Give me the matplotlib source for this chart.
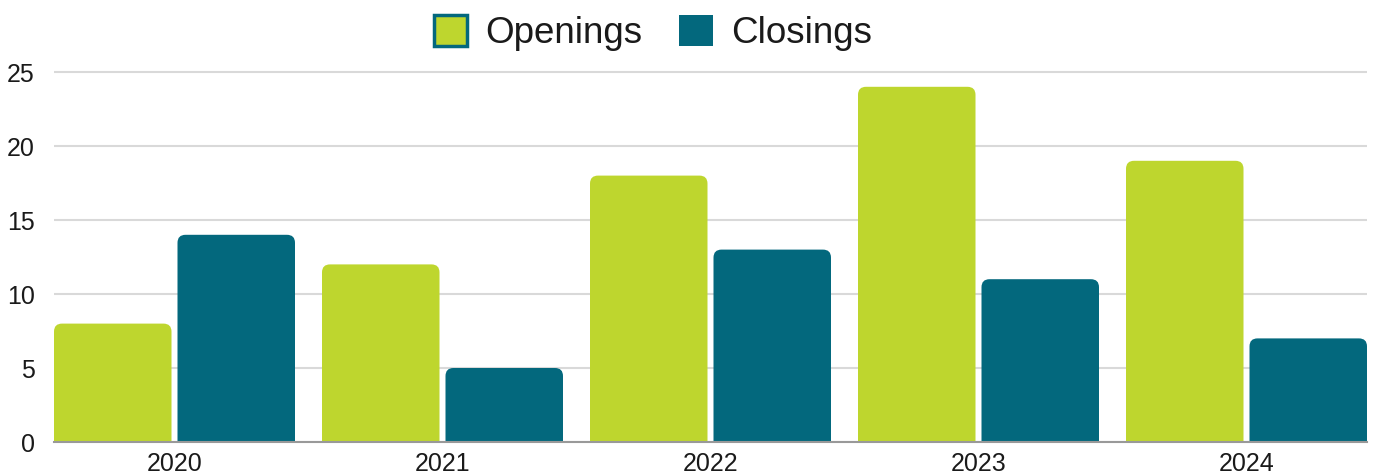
import matplotlib
matplotlib.use("Agg")
import matplotlib.pyplot as plt
from matplotlib.patches import FancyBboxPatch, Patch
import numpy as np

plt.rcParams['font.family'] = ['Liberation Sans', 'DejaVu Sans']

years = ["2020", "2021", "2022", "2023", "2024"]
openings = [8, 12, 18, 24, 19]
closings = [14, 5, 13, 11, 7]
series_names = ["Openings", "Closings"]
green = "#BED62E"
teal = "#03687D"

W, H = 1373, 475
fig = plt.figure(figsize=(W / 100, H / 100), dpi=100)
ymax = 25.5
left, right, bottom = 54, 1367, 442
ppu = (442 - 72) / 25.0
top = bottom - ymax * ppu
ax = fig.add_axes([left / W, (H - bottom) / H, (right - left) / W, (bottom - top) / H])

x = np.arange(len(years))
bw = 117.5 / 268
gap = 6 / 268
ax.set_xlim(-bw - gap / 2, len(years) - 1 + bw + gap / 2)
ax.set_ylim(0, ymax)

b1 = ax.bar(x - (bw + gap) / 2, openings, width=bw, color=green)
b2 = ax.bar(x + (bw + gap) / 2, closings, width=bw, color=teal)

# rounded top corners
xunit_px = 268.0
r_px = 8.0
rx = r_px / xunit_px
aspect = xunit_px / ppu
for bars, col in ((b1, green), (b2, teal)):
    for r in bars:
        r.set_visible(False)
        bx, bwid, bh = r.get_x(), r.get_width(), r.get_height()
        ext = r_px / ppu * 1.5
        p = FancyBboxPatch((bx + rx, -ext), bwid - 2 * rx, bh + ext - rx * aspect,
                           boxstyle=f"round,pad={rx},rounding_size={rx}",
                           mutation_aspect=aspect, facecolor=col, edgecolor='none',
                           zorder=2)
        ax.add_patch(p)

ax.set_yticks([0, 5, 10, 15, 20, 25])
ax.grid(axis='y', color='#d9d9d9', linewidth=1.5, zorder=0)
ax.set_axisbelow(True)
for s in ('top', 'right', 'left'):
    ax.spines[s].set_visible(False)
ax.spines['bottom'].set_color('#999999')
ax.spines['bottom'].set_linewidth(1.5)
ax.spines['bottom'].set_zorder(3)
ax.set_xticks(x)
ax.set_xticklabels(years)
ax.tick_params(axis='both', length=0, labelsize=18, colors='#1a1a1a')
ax.tick_params(axis='y', pad=14)
ax.tick_params(axis='x', pad=7)

handles = [Patch(facecolor=green, edgecolor=teal, linewidth=2.5, label=series_names[0]),
           Patch(facecolor=teal, edgecolor=teal, linewidth=0, label=series_names[1])]
fig.legend(handles=handles, loc='center', bbox_to_anchor=(653 / W, (H - 33) / H),
           ncol=2, frameon=False, fontsize=26.5, handlelength=0.9, handleheight=0.9,
           handletextpad=0.5, columnspacing=1.0, labelcolor='#1a1a1a')

fig.savefig("out.png", dpi=100)
